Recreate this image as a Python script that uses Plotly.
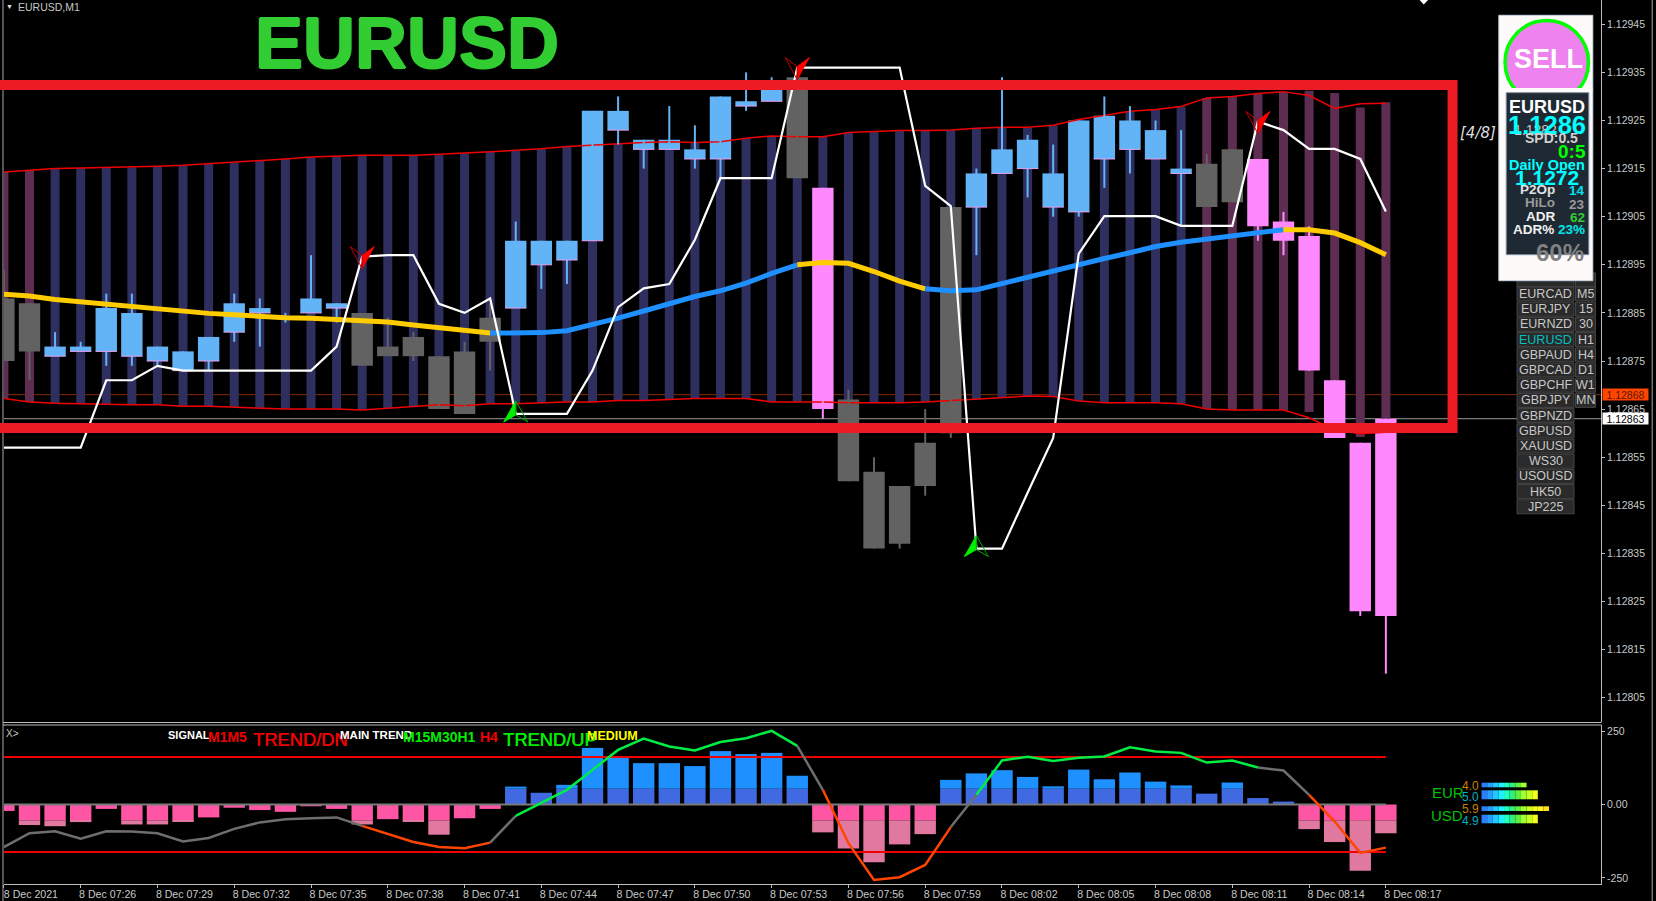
import pandas as pd
import plotly.graph_objects as go

# ---------- data ----------
times = pd.date_range("2021-12-08 07:23", periods=55, freq="min")
tick_labels = ["8 Dec 2021", "8 Dec 07:26", "8 Dec 07:29", "8 Dec 07:32", "8 Dec 07:35", "8 Dec 07:38", "8 Dec 07:41",
               "8 Dec 07:44", "8 Dec 07:47", "8 Dec 07:50", "8 Dec 07:53", "8 Dec 07:56", "8 Dec 07:59", "8 Dec 08:02",
               "8 Dec 08:05", "8 Dec 08:08", "8 Dec 08:11", "8 Dec 08:14", "8 Dec 08:17"]
price_ticks = [1.12805, 1.12815, 1.12825, 1.12835, 1.12845, 1.12855, 1.12865, 1.12875, 1.12885, 1.12895,
               1.12905, 1.12915, 1.12925, 1.12935, 1.12945]

candle_kind = list("ggbbbbbbbbbbbbggggggbbbbbbbbbbbgpgggggbbbbbbbbbggpppppp")

body_top = [1.12888, 1.12887, 1.12878, 1.12878, 1.12886, 1.12885, 1.12878, 1.12877, 1.12880, 1.12887, 1.12886,
            1.12884, 1.12888, 1.12887, 1.12885, 1.12878, 1.12880, 1.12876, 1.12877, 1.12884, 1.12900, 1.12900,
            1.12900, 1.12927, 1.12927, 1.12921, 1.12921, 1.12919, 1.12930, 1.12929, 1.12933, 1.12934, 1.12911,
            1.12867, 1.12852, 1.12849, 1.12858, 1.12907, 1.12914, 1.12919, 1.12921, 1.12914, 1.12925, 1.12926,
            1.12925, 1.12923, 1.12915, 1.12916, 1.12919, 1.12917, 1.12904, 1.12901, 1.12871, 1.12858, 1.12863]
body_bot = [1.12875, 1.12877, 1.12876, 1.12877, 1.12877, 1.12876, 1.12875, 1.12873, 1.12875, 1.12881, 1.12885,
            1.12884, 1.12885, 1.12886, 1.12874, 1.12876, 1.12876, 1.12865, 1.12864, 1.12879, 1.12886, 1.12895,
            1.12896, 1.12900, 1.12923, 1.12919, 1.12919, 1.12917, 1.12917, 1.12928, 1.12929, 1.12913, 1.12865,
            1.12850, 1.12836, 1.12837, 1.12849, 1.12860, 1.12907, 1.12914, 1.12915, 1.12907, 1.12906, 1.12917,
            1.12919, 1.12917, 1.12914, 1.12907, 1.12908, 1.12903, 1.12900, 1.12873, 1.12859, 1.12823, 1.12822]
high = [1.12894, 1.12887, 1.12881, 1.12879, 1.12889, 1.12889, 1.12878, 1.12877, 1.12880, 1.12889, 1.12888,
        1.12885, 1.12897, 1.12887, 1.12885, 1.12884, 1.12881, 1.12876, 1.12879, 1.12887, 1.12904, 1.12900,
        1.12900, 1.12927, 1.12930, 1.12921, 1.12928, 1.12924, 1.12930, 1.12935, 1.12934, 1.12934, 1.12911,
        1.12869, 1.12855, 1.12849, 1.12865, 1.12907, 1.12915, 1.12934, 1.12922, 1.12920, 1.12925, 1.12930,
        1.12928, 1.12925, 1.12923, 1.12918, 1.12919, 1.12917, 1.12906, 1.12903, 1.12871, 1.12858, 1.12863]
low = [1.12875, 1.12871, 1.12876, 1.12877, 1.12874, 1.12874, 1.12874, 1.12873, 1.12873, 1.12879, 1.12878,
       1.12883, 1.12885, 1.12883, 1.12874, 1.12876, 1.12875, 1.12865, 1.12864, 1.12873, 1.12886, 1.12890,
       1.12891, 1.12900, 1.12920, 1.12915, 1.12919, 1.12915, 1.12913, 1.12927, 1.12929, 1.12913, 1.12863,
       1.12850, 1.12836, 1.12836, 1.12847, 1.12859, 1.12897, 1.12914, 1.12909, 1.12905, 1.12905, 1.12911,
       1.12914, 1.12917, 1.12903, 1.12907, 1.12908, 1.12900, 1.12897, 1.12873, 1.12859, 1.12822, 1.12810]

band_upper = [1.129143, 1.129147, 1.12915, 1.129151, 1.129152, 1.129153, 1.129155, 1.129157, 1.12916, 1.129163, 1.129166,
              1.12917, 1.129174, 1.129176, 1.129178, 1.129178, 1.129178, 1.12918, 1.129182, 1.129185, 1.129188, 1.129191,
              1.129196, 1.129199, 1.129201, 1.129204, 1.129206, 1.129204, 1.129206, 1.129213, 1.129218, 1.129216, 1.129216,
              1.129225, 1.129227, 1.129229, 1.129229, 1.12923, 1.129234, 1.129236, 1.129236, 1.12924, 1.129252, 1.12926,
              1.129269, 1.129273, 1.129279, 1.129297, 1.1293, 1.129306, 1.12931, 1.129302, 1.129275, 1.129285, 1.129286]
band_lower = [1.128672, 1.128665, 1.128662, 1.128661, 1.128659, 1.128659, 1.128659, 1.128656, 1.128656, 1.128654, 1.128652,
              1.12865, 1.12865, 1.12865, 1.128648, 1.128652, 1.128656, 1.128659, 1.128657, 1.128661, 1.128661, 1.128663,
              1.128665, 1.128665, 1.128668, 1.128668, 1.12867, 1.128672, 1.128672, 1.128672, 1.128665, 1.128665, 1.128665,
              1.128663, 1.128663, 1.128663, 1.128665, 1.128668, 1.128671, 1.128673, 1.128677, 1.128676, 1.128667, 1.128663,
              1.128663, 1.128663, 1.128661, 1.12865, 1.128648, 1.128648, 1.128648, 1.128632, 1.128607, 1.128599, 1.128602]
column_top_tail = [1.129312, 1.129307, 1.129277, 1.129288]
column_bot_tail = [1.128644, 1.128607, 1.128592, 1.128602]
column_kind = list("mm") + list("b" * 45) + list("m" * 8)

signal_line = [1.12857, 1.12857, 1.12857, 1.12857, 1.12871, 1.12871, 1.12874, 1.12873, 1.12873, 1.12873, 1.12873,
               1.12873, 1.12873, 1.12878, 1.128967, 1.12897, 1.12897, 1.128869, 1.12885, 1.12888, 1.12864, 1.12864,
               1.12864, 1.12873, 1.128862, 1.128901, 1.12891, 1.129002, 1.12913, 1.12913, 1.12913, 1.12936, 1.12936,
               1.12936, 1.12936, 1.12936, 1.129114, 1.129072, 1.12836, 1.12836, 1.128476, 1.12859, 1.128973, 1.129051,
               1.129051, 1.129051, 1.129031, 1.129031, 1.129031, 1.129248, 1.12923, 1.129191, 1.129191, 1.12917, 1.129061]
moving_avg = [1.128889, 1.128885, 1.128878, 1.128873, 1.128869, 1.128863, 1.128858, 1.128854, 1.128849, 1.128846, 1.128842,
              1.12884, 1.128839, 1.128837, 1.128835, 1.128831, 1.128825, 1.12882, 1.128814, 1.128808, 1.128808, 1.128809,
              1.128813, 1.128825, 1.128839, 1.128854, 1.12887, 1.128884, 1.128896, 1.128912, 1.128932, 1.12895, 1.128955,
              1.128953, 1.128936, 1.128916, 1.1289, 1.128896, 1.128898, 1.128911, 1.128926, 1.128938, 1.128951, 1.128963,
              1.128975, 1.128988, 1.128997, 1.129004, 1.12901, 1.129017, 1.129023, 1.129023, 1.129016, 1.128996, 1.128971]
ma_segments = [(0, 19, "#FFCC00"), (19, 31, "#1E90FF"), (31, 36, "#FFCC00"), (36, 50, "#1E90FF"), (50, 54, "#FFCC00")]
sell_arrows = [14, 31, 49]
buy_arrows = [20, 38]

level_bid = 1.12868
level_ask = 1.12863

hist_values = [-22, -70, -74, -60, -15, -68, -68, -58, -44, -11, -19, -25, -6, -15, -68, -50, -58, -103, -47, -15,
               61, 40, 67, 193, 161, 141, 141, 131, 182, 172, 176, 98, -95, -150, -197, -136, -101, 84, 106, 117,
               94, 62, 119, 86, 109, 78, 65, 37, 75, 22, 10, -84, -128, -226, -98]
hist_split = 54
osc_line = [-145, -98, -91, -117, -91, -92, -98, -126, -114, -83, -61, -50, -47, -44, -73, -101, -128, -145, -149, -130,
            -39, 5, 50, 118, 186, 225, 198, 184, 213, 226, 251, 200, 50, -132, -257, -248, -206, -77, 33, 150,
            163, 148, 159, 164, 195, 181, 176, 143, 150, 126, 116, 33, -58, -165, -147]
osc_segments = [(0, 14, "#6E6E6E"), (14, 19, "#FF4500"), (19, 20, "#6E6E6E"), (20, 31, "#00EE44"), (31, 32, "#6E6E6E"),
                (32, 37, "#FF4500"), (37, 38, "#6E6E6E"), (38, 49, "#00EE44"), (49, 51, "#6E6E6E"), (51, 54, "#FF4500")]
osc_levels = [162, -162]

symbols = ["EURCAD", "EURJPY", "EURNZD", "EURUSD", "GBPAUD", "GBPCAD", "GBPCHF", "GBPJPY", "GBPNZD", "GBPUSD",
           "XAUUSD", "WS30", "USOUSD", "HK50", "JP225"]
timeframes = ["M5", "15", "30", "H1", "H4", "D1", "W1", "MN"]
strength_names = ["EUR", "USD"]
strength_values = [4.0, 5.0, 5.9, 4.9]
strength_palette = ["#2A7FFF", "#2A9FFF", "#20C8FF", "#20F0FF", "#20FFC0", "#30F080", "#60F040", "#A0FF30",
                    "#C8FF20", "#F0FF20", "#FFF820", "#FFE020"]

# ---------- geometry ----------
W, H = 1656, 901
L, R, B = 4.0, 1601.5, 884.0
MAIN_BOTTOM, SUB_TOP = 722.0, 725.0
MIN_PX = 25.6
FONT = "Liberation Sans"
AXIS = "#BDBDBD"
TXT = "#C8C8C8"


def fx(p):
    return (p - L) / (R - L)


def fy(p):
    return 1 - p / B


t_start = times[0] + pd.Timedelta(minutes=(L - 3.9) / MIN_PX)
t_end = times[0] + pd.Timedelta(minutes=(R - 3.9) / MIN_PX)
body_ms = 21.4 / MIN_PX * 60000
column_ms = 9.0 / MIN_PX * 60000
half_body = pd.Timedelta(milliseconds=body_ms / 2)

fig = go.Figure()

# columns between the bands
column_top = band_upper[:51] + column_top_tail
column_bot = band_lower[:51] + column_bot_tail
for kind, col in (("b", "#2E2E5F"), ("m", "#5E2E52")):
    idx = [i for i, k in enumerate(column_kind) if k == kind]
    fig.add_bar(x=[times[i] for i in idx], y=[column_top[i] - column_bot[i] for i in idx],
                base=[column_bot[i] for i in idx], width=column_ms, marker=dict(color=col, line_width=0),
                xaxis="x", yaxis="y", hoverinfo="skip")

# bands
for band in (band_upper, band_lower):
    fig.add_scatter(x=times, y=band, mode="lines", line=dict(color="#F00000", width=1.5), xaxis="x", yaxis="y")

# candles
candle_cols = {"b": "#63B4F6", "g": "#626262", "p": "#FF88FF"}
for kind, col in candle_cols.items():
    idx = [i for i, k in enumerate(candle_kind) if k == kind]
    wx, wy = [], []
    for i in idx:
        wx += [times[i], times[i], None]
        wy += [low[i], high[i], None]
    fig.add_scatter(x=wx, y=wy, mode="lines", line=dict(color=col, width=2), xaxis="x", yaxis="y")
    fig.add_bar(x=[times[i] for i in idx], y=[body_top[i] - body_bot[i] for i in idx],
                base=[body_bot[i] for i in idx], width=body_ms, marker=dict(color=col, line_width=0),
                xaxis="x", yaxis="y", hoverinfo="skip")
# pink lower edge on blue bodies
ex, ey = [], []
for i, k in enumerate(candle_kind):
    if k == "b":
        ex += [times[i] - half_body, times[i] + half_body, None]
        ey += [body_bot[i], body_bot[i], None]
fig.add_scatter(x=ex, y=ey, mode="lines", line=dict(color="#E8A0F0", width=1), xaxis="x", yaxis="y")

# moving average
for a, b, col in ma_segments:
    fig.add_scatter(x=times[a:b + 1], y=moving_avg[a:b + 1], mode="lines", line=dict(color=col, width=5),
                    xaxis="x", yaxis="y")
# signal line
fig.add_scatter(x=times, y=signal_line, mode="lines", line=dict(color="#FFFFFF", width=2.2), xaxis="x", yaxis="y")

# sub-pane histogram
pos_low = [min(v, hist_split) if v > 0 else None for v in hist_values]
pos_high = [v - hist_split if v > hist_split else None for v in hist_values]
neg_low = [max(v, -hist_split) if v < 0 else None for v in hist_values]
neg_high = [v + hist_split if v < -hist_split else None for v in hist_values]
fig.add_bar(x=times, y=pos_low, width=body_ms, marker=dict(color="#4169E1", line_width=0), xaxis="x", yaxis="y2")
fig.add_bar(x=times, y=pos_high, base=[hist_split if v is not None else None for v in pos_high], width=body_ms,
            marker=dict(color="#1E90FF", line_width=0), xaxis="x", yaxis="y2")
fig.add_bar(x=times, y=neg_low, width=body_ms, marker=dict(color="#FF55A5", line_width=0), xaxis="x", yaxis="y2")
fig.add_bar(x=times, y=neg_high, base=[-hist_split if v is not None else None for v in neg_high], width=body_ms,
            marker=dict(color="#E078A0", line_width=0), xaxis="x", yaxis="y2")
fig.add_scatter(x=[times[0], times[-1]], y=[0, 0], mode="lines", line=dict(color="#7A7A7A", width=2), xaxis="x", yaxis="y2")
for lv in osc_levels:
    fig.add_scatter(x=[t_start, times[-1]], y=[lv, lv], mode="lines", line=dict(color="#F00000", width=2), xaxis="x", yaxis="y2")
for a, b, col in osc_segments:
    fig.add_scatter(x=times[a:b + 1], y=osc_line[a:b + 1], mode="lines", line=dict(color=col, width=2.5), xaxis="x", yaxis="y2")

shapes = []


def rect(x0, y0, x1, y1, fill, line=None, lw=0, kind="rect"):
    shapes.append(dict(type=kind, xref="paper", yref="paper", x0=fx(x0), x1=fx(x1), y0=fy(y1), y1=fy(y0),
                       fillcolor=fill, line=dict(color=line or fill, width=lw)))


# price levels
for lv, col in ((level_bid, "#8A2A00"), (level_ask, "#9A9A9A")):
    shapes.append(dict(type="line", xref="paper", yref="y", x0=0, x1=1, y0=lv, y1=lv, layer="below",
                       line=dict(color=col, width=1)))

# frame
rect(2.5, 0, 3.5, 901, "#A8A8A8")
rect(1652.2, 0, 1653.2, 901, "#A8A8A8")
rect(3, 722, 1602, 723, AXIS)
rect(3, 724.4, 1602, 725.4, AXIS)

# chart-shift marker at the top edge
shapes.append(dict(type="path", xref="paper", yref="paper", fillcolor="#FFFFFF", line=dict(color="#FFFFFF", width=0),
                   path=f"M {fx(1420)} {fy(0)} L {fx(1428.5)} {fy(0)} L {fx(1424.2)} {fy(4.5)} Z"))

# thick annotation rectangle
shapes.append(dict(type="rect", xref="paper", yref="paper", x0=fx(-30), x1=fx(1453), y0=fy(428), y1=fy(85),
                   line=dict(color="#ED1C24", width=10), fillcolor="rgba(0,0,0,0)"))

# arrows
for i in sell_arrows:
    xa = times[i].strftime("%Y-%m-%d %H:%M:%S")
    shapes.append(dict(type="path", xsizemode="pixel", ysizemode="pixel", xref="x", yref="y", xanchor=xa,
                       yanchor=signal_line[i], path="M 0 1 L 12 10 L 0 -12 Z", fillcolor="#FF0000",
                       line=dict(color="#FF0000", width=1)))
    shapes.append(dict(type="path", xsizemode="pixel", ysizemode="pixel", xref="x", yref="y", xanchor=xa,
                       yanchor=signal_line[i], path="M 0 1 L -12 10 L 0 -12 Z", fillcolor="rgba(0,0,0,0)",
                       line=dict(color="#C00000", width=1)))
for i in buy_arrows:
    xa = times[i].strftime("%Y-%m-%d %H:%M:%S")
    shapes.append(dict(type="path", xsizemode="pixel", ysizemode="pixel", xref="x", yref="y", xanchor=xa,
                       yanchor=signal_line[i], path="M 0 -1 L -12 -8 L 0 13 Z", fillcolor="#00EE00",
                       line=dict(color="#00EE00", width=1)))
    shapes.append(dict(type="path", xsizemode="pixel", ysizemode="pixel", xref="x", yref="y", xanchor=xa,
                       yanchor=signal_line[i], path="M 0 -1 L 12 -8 L 0 13 Z", fillcolor="rgba(0,0,0,0)",
                       line=dict(color="#00A800", width=1)))

# symbol buttons
ROW0, ROW_STEP = 294.0, 15.2
rect(1517.5, 273, 1574.5, 287, "#2A2A2A", "#444444", 1)
rect(1576, 273, 1596, 287, "#2A2A2A", "#444444", 1)
for r in range(len(symbols)):
    yc = ROW0 + r * ROW_STEP
    rect(1517.5, yc - 7, 1574.5, yc + 7, "#2A2A2A", "#444444", 1)
for r in range(len(timeframes)):
    yc = ROW0 + r * ROW_STEP
    rect(1576, yc - 7, 1596, yc + 7, "#2A2A2A", "#444444", 1)

# info panel
rect(1499.3, 15.3, 1593.3, 280.7, "#FFFAFA", "#C8D4E0", 1)
rect(1505.5, 20.5, 1589, 104, "#EE82EE", "#00FF00", 3.5, kind="circle")
rect(1500, 88, 1592.8, 92.7, "#FFFAFA")
rect(1506.7, 92.7, 1589.3, 254.7, "#1F2933", "#8090A0", 1)

# strength bars
STRENGTH_X, SEG_PX = 1482.0, 5.63
bar_rows = [(782.7, 787.3), (790.3, 799.3), (806.3, 811.0), (814.7, 823.3)]
for val, (y0, y1) in zip(strength_values, bar_rows):
    for s in range(round(val * 2)):
        rect(STRENGTH_X + s * SEG_PX, y0, STRENGTH_X + (s + 1) * SEG_PX, y1, strength_palette[s])

annotations = []


def label(px, py, text, size, color, anchor="left", bold=False, family=FONT, italic=False, shadow=None):
    if bold:
        text = f"<b>{text}</b>"
    if italic:
        text = f"<i>{text}</i>"
    font = dict(family=family, size=size, color=color)
    if shadow:
        font["shadow"] = shadow
    annotations.append(dict(xref="paper", yref="paper", x=fx(px), y=fy(py), text=text, showarrow=False,
                            xanchor=anchor, yanchor="middle", borderpad=0, borderwidth=0, font=font))


def halo(color, r=1):
    return f"{r}px 0 0 {color},-{r}px 0 0 {color},0 {r}px 0 {color},0 -{r}px 0 {color}"


# header
label(18, 7, "EURUSD,M1", 10.5, TXT)
label(6, 7, "▼", 7, "#E0E0E0")
label(255, 43, "EURUSD", 72, "#32CD32", bold=True, shadow=halo("#32CD32"))

# sub-pane texts
label(6.5, 733, "X&gt;", 10, TXT)
label(168, 735, "SIGNAL", 11, "#FFFFFF", bold=True)
label(208, 737, "M1M5", 14, "#F00000", bold=True)
label(253, 739, "TREND/DN", 18.3, "#F00000", shadow="0.5px 0 0 #F00000")
label(340, 735, "MAIN TREND", 11.5, "#FFFFFF", bold=True)
label(403, 737, "M15M30H1", 14, "#00EE00", bold=True)
label(480, 737, "H4", 14, "#F00000", bold=True)
label(503, 739, "TREND/UP", 18.3, "#00EE00", shadow="0.5px 0 0 #00EE00")
label(587, 736, "MEDIUM", 12.5, "#FFFF00", bold=True)

# strength widget
label(1432.5, 792.5, strength_names[0], 15, "#00C000")
label(1431, 815.7, strength_names[1], 15, "#00C000")
for txt, py, col in zip(strength_values, (785.5, 796.7, 808.8, 820.7), ("#C88000", "#00B0C0", "#C88000", "#00B0C0")):
    label(1462, py, f"{txt:.1f}", 12, col)

# buttons
for r, s in enumerate(symbols):
    label(1546, ROW0 + r * ROW_STEP, s, 12.5, "#00C0C0" if s == "EURUSD" else TXT, anchor="center")
for r, s in enumerate(timeframes):
    label(1586, ROW0 + r * ROW_STEP, s, 12.5, TXT, anchor="center")

# panel texts
MID = 1547
label(MID + 1.5, 58.7, "SELL", 27, "#FFFFFF", anchor="center", bold=True)
label(1460, 133, "[4/8]", 15, "#DDDDDD", family="DejaVu Sans", italic=True)
label(MID, 107, "EURUSD", 18, "#FFFFFF", anchor="center", bold=True)
label(1536, 130, "1.1282", 14, "#C8C8C8", anchor="center")
label(MID, 125, "1.1286", 25.5, "#00FFFF", anchor="center", bold=True)
label(1551.5, 137.5, "SPD:0.5", 14, "#D0D0D0", anchor="center", bold=True)
label(1586, 151.7, "0:5", 19, "#00FF00", anchor="right", bold=True)
label(MID, 164.5, "Daily Open", 14.5, "#00FFFF", anchor="center", bold=True)
label(MID, 177.5, "1.1272", 21, "#00FFFF", anchor="center", bold=True)
label(1537.7, 189.5, "P2Op", 13.5, "#E0E0E0", anchor="center", bold=True)
label(1585, 190.5, "14", 13.5, "#00E0F0", anchor="right", bold=True)
label(1540, 203, "HiLo", 13.5, "#9A9A9A", anchor="center", bold=True)
label(1585, 204, "23", 13.5, "#9A9A9A", anchor="right", bold=True)
label(1541, 216.7, "ADR", 13.5, "#F0F0F0", anchor="center", bold=True)
label(1585, 217.5, "62", 13.5, "#33CC33", anchor="right", bold=True)
label(1534, 230, "ADR%", 13.5, "#F0F0F0", anchor="center", bold=True)
label(1585, 230, "23%", 13.5, "#00E8E8", anchor="right", bold=True)
label(1560, 252.7, "60%", 24, "#808080", anchor="center", bold=True)

# price tags
annotations.append(dict(xref="paper", yref="y", x=fx(1602.7), y=level_bid, text=f"{level_bid:.5f}", showarrow=False,
                        xanchor="left", yanchor="middle", bgcolor="#FF4500", width=45, height=11, borderpad=0,
                        font=dict(family=FONT, size=10.5, color="#601800")))
annotations.append(dict(xref="paper", yref="y", x=fx(1602.7), y=level_ask, text=f"{level_ask:.5f}", showarrow=False,
                        xanchor="left", yanchor="middle", bgcolor="#FFFFFF", width=45, height=11, borderpad=0,
                        font=dict(family=FONT, size=10.5, color="#000000")))

fig.update_layout(
    width=W, height=H, autosize=False, paper_bgcolor="#000000", plot_bgcolor="#000000",
    margin=dict(l=L, r=W - R, t=0, b=H - B, pad=0, autoexpand=False), showlegend=False, barmode="overlay",
    hovermode=False, shapes=shapes, annotations=annotations,
    xaxis=dict(type="date", range=[t_start, t_end], anchor="y2", domain=[0, 1], showgrid=False, zeroline=False,
               tickmode="array", tickvals=list(times[::3]), ticktext=tick_labels, ticks="outside", ticklen=3,
               tickcolor=AXIS, tickangle=0, showline=True, linecolor=AXIS, linewidth=1, ticklabelshift=27,
               ticklabelstandoff=-3, ticklabeloverflow="allow",
               tickfont=dict(family=FONT, size=10.6, color=TXT)),
    yaxis=dict(domain=[1 - MAIN_BOTTOM / B, 1], range=[1.1279995, 1.1295005], side="right", anchor="x",
               showgrid=False, zeroline=False, tickmode="array", tickvals=price_ticks,
               ticktext=[f"{p:.5f}" for p in price_ticks], ticks="outside", ticklen=3, tickcolor=AXIS,
               showline=True, linecolor=AXIS, linewidth=1, tickfont=dict(family=FONT, size=10.5, color=TXT)),
    yaxis2=dict(domain=[0, 1 - SUB_TOP / B], range=[-271, 271], side="right", anchor="x", showgrid=False,
                zeroline=False, tickmode="array", tickvals=[-250, 0, 250], ticktext=["-250", "0.00", "250"],
                ticks="outside", ticklen=3, tickcolor=AXIS, showline=True, linecolor=AXIS, linewidth=1,
                tickfont=dict(family=FONT, size=10.5, color=TXT)),
)

# partly covered first row of the button lists sits under the panel
fig.add_scatter(x=[times[0] + pd.Timedelta(minutes=(1546 - 3.9) / MIN_PX), times[0] + pd.Timedelta(minutes=(1586 - 3.9) / MIN_PX)],
                y=[1.1295005 - 280 / 481000, 1.1295005 - 280 / 481000], mode="text", text=["EURAUD", "M1"],
                textposition="middle center", textfont=dict(family=FONT, size=12.5, color=TXT), xaxis="x", yaxis="y")

fig.write_html("out.html", include_plotlyjs=True, config={"displayModeBar": False},
               post_script="document.body.style.margin='0';document.body.style.background='#000';")
